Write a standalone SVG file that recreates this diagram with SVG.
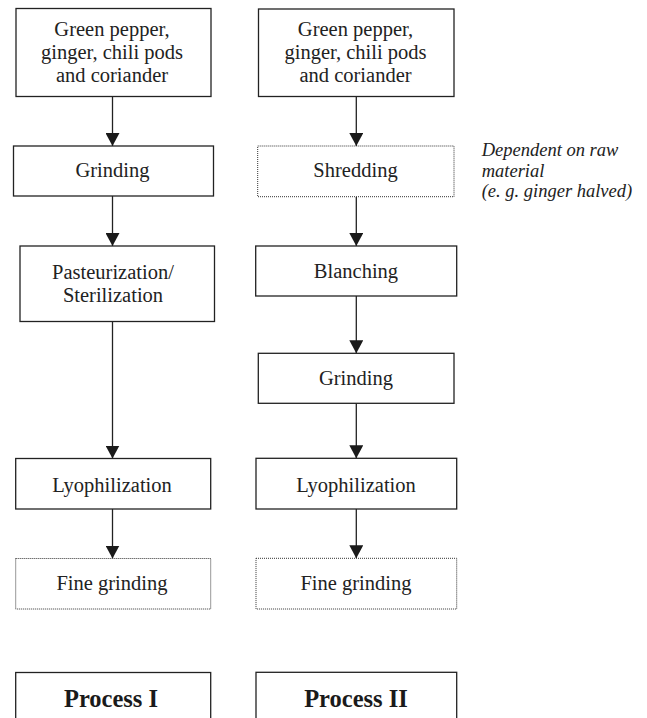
<svg xmlns="http://www.w3.org/2000/svg" width="647" height="718" viewBox="0 0 647 718">
<style>
.box{fill:#fff;stroke:#222;stroke-width:1.3}
.dot{fill:#fff;stroke:#333;stroke-width:1;stroke-dasharray:1 1}
.t{font-family:'Liberation Serif','Tinos','Times New Roman','DejaVu Serif',serif;font-size:20.5px;fill:#222;text-anchor:middle}
.b{font-family:'Liberation Serif','Tinos','Times New Roman','DejaVu Serif',serif;font-size:24.5px;font-weight:bold;fill:#1a1a1a;text-anchor:middle}
.i{font-family:'Liberation Serif','Tinos','Times New Roman','DejaVu Serif',serif;font-size:18.5px;font-style:italic;fill:#222}
.c{stroke:#222;stroke-width:1.3;fill:none;marker-end:url(#ah)}
</style>
<defs>
<marker id="ah" markerUnits="userSpaceOnUse" viewBox="0 0 13 14" markerWidth="13" markerHeight="14" refX="13" refY="7" orient="auto">
<path d="M0,0 L13,7 L0,14 Z" fill="#1a1a1a"/>
</marker>
</defs>
<rect width="647" height="718" fill="#fff"/>
<g id="connectors">
<line class="c" x1="112.5" y1="96.5" x2="112.5" y2="146"/>
<line class="c" x1="112.5" y1="196" x2="112.5" y2="246"/>
<line class="c" x1="112.5" y1="321.5" x2="112.5" y2="458.5"/>
<line class="c" x1="112.5" y1="509" x2="112.5" y2="558.5"/>
<line class="c" x1="356.3" y1="96.5" x2="356.3" y2="146"/>
<line class="c" x1="356.3" y1="196.7" x2="356.3" y2="246"/>
<line class="c" x1="356.3" y1="296" x2="356.3" y2="353.3"/>
<line class="c" x1="356.3" y1="403.3" x2="356.3" y2="458.3"/>
<line class="c" x1="356.3" y1="509" x2="356.3" y2="558.3"/>
</g>
<g id="l1"><rect class="box" x="16" y="8.5" width="195" height="88"/>
<text class="t" x="112" y="35.7">Green pepper,</text><text class="t" x="112" y="59.3">ginger, chili pods</text><text class="t" x="112" y="82.3">and coriander</text></g>
<g id="l2"><rect class="box" x="13.5" y="146" width="200" height="50"/><text class="t" x="112.5" y="176.7">Grinding</text></g>
<g id="l3"><rect class="box" x="20" y="246" width="194.5" height="75.5"/>
<text class="t" x="113" y="278.7">Pasteurization/</text><text class="t" x="113" y="301.7">Sterilization</text></g>
<g id="l4"><rect class="box" x="15.7" y="458.5" width="195" height="50.5"/><text class="t" x="112" y="491.7">Lyophilization</text></g>
<g id="l5"><rect class="dot" x="15.7" y="558.5" width="195" height="50.5"/><text class="t" x="112" y="590">Fine grinding</text></g>
<g id="l6"><rect class="box" x="15.7" y="672.5" width="195" height="60"/><text class="b" x="111" y="706.7">Process I</text></g>
<g id="r1"><rect class="box" x="258.5" y="9" width="195.5" height="87.5"/>
<text class="t" x="355.5" y="35.7">Green pepper,</text><text class="t" x="355.5" y="59.3">ginger, chili pods</text><text class="t" x="355.5" y="82.3">and coriander</text></g>
<g id="r2"><rect class="dot" x="257.7" y="146" width="196.3" height="50.7"/><text class="t" x="355.5" y="176.7">Shredding</text></g>
<g id="r3"><rect class="box" x="255.7" y="246" width="201" height="50"/><text class="t" x="356" y="277.7">Blanching</text></g>
<g id="r4"><rect class="box" x="258.3" y="353.3" width="195.7" height="50"/><text class="t" x="356" y="385">Grinding</text></g>
<g id="r5"><rect class="box" x="256" y="458.3" width="200.7" height="50.7"/><text class="t" x="356" y="491.7">Lyophilization</text></g>
<g id="r6"><rect class="dot" x="256" y="558.3" width="200.7" height="50.7"/><text class="t" x="356" y="590">Fine grinding</text></g>
<g id="r7"><rect class="box" x="256" y="672.3" width="200.7" height="60"/><text class="b" x="356" y="706.7">Process II</text></g>
<g id="note"><text class="i" x="481.7" y="156">Dependent on raw</text><text class="i" x="481.7" y="176.5">material</text><text class="i" x="481.7" y="197">(e. g. ginger halved)</text></g>
</svg>
